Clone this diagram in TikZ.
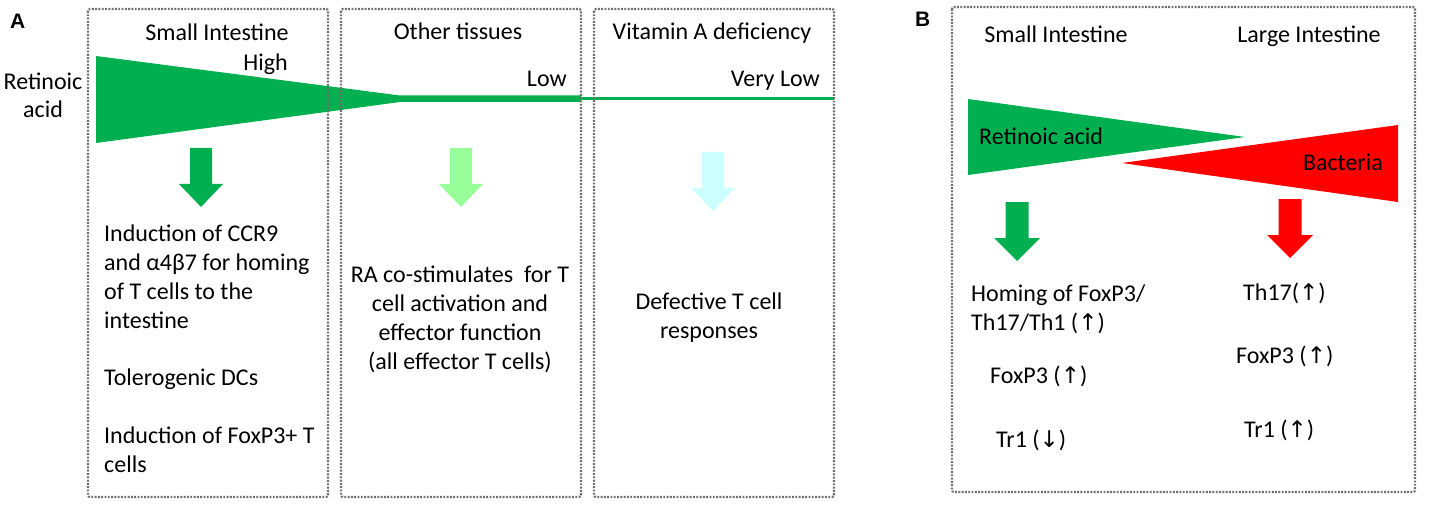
\documentclass[tikz,border=0pt]{standalone}
\usepackage{fontspec}
\setmainfont{Carlito}
\newfontfamily\arrowfont{DejaVu Sans}
\newfontfamily\panelfont{Liberation Sans}
\usetikzlibrary{positioning}
\definecolor{ragreen}{RGB}{0,176,80}
\definecolor{palegreen}{RGB}{153,255,153}
\definecolor{palecyan}{RGB}{204,255,255}
\definecolor{dotgray}{RGB}{110,110,110}
\tikzstyle{panel}=[draw=dotgray,line width=2.2pt,dash pattern=on 1.9pt off 1.4pt,rounded corners=2pt]
\tikzstyle{txt}=[inner sep=0pt,font=\fontsize{24}{28.8}\selectfont]
\tikzstyle{tag}=[inner sep=0pt,font=\fontsize{21}{24}\panelfont\bfseries]
\newcommand{\up}{{\arrowfont\fontsize{23}{24}\selectfont ↑}}
\newcommand{\down}{{\arrowfont\fontsize{23}{24}\selectfont ↓}}

\begin{document}
\begin{tikzpicture}[x=1pt,y=-1pt]
        \useasboundingbox (0,0) rectangle (1439,505);
        % panel A: retinoic acid gradient
        \fill[ragreen] (96,56) -- (400,95.5) -- (581,95.5) -- (581,102) -- (400,102) -- (96,143) -- cycle;
        \fill[ragreen] (581,97) rectangle (834,100.5);
        % panel B: opposing gradients
        \fill[ragreen] (968,99) -- (1245,137) -- (968,175) -- cycle;
        \fill[red] (1122,163) -- (1398,125) -- (1398,202) -- cycle;
        % block arrows
        \foreach \x/\t/\w/\col in {201/148/11/ragreen,461/148/11/palegreen,713/152/11/palecyan,1017/202/11.5/ragreen,1290/199/11.5/red}{
          \fill[\col] ({\x-\w},\t) -- ({\x+\w},\t) -- ({\x+\w},{\t+36}) -- ({\x+2*\w},{\t+36})
            -- (\x,{\t+59}) -- ({\x-2*\w},{\t+36}) -- ({\x-\w},{\t+36}) -- cycle;
        }
        % dotted frames
        \draw[panel] (88,9) rectangle (328,497);
        \draw[panel] (341,9) rectangle (581,497);
        \draw[panel] (594,9) rectangle (834,497);
        \draw[panel] (952,7) rectangle (1415,492);
        % labels of panel A (multi-line nodes sit on their last line)
        \node[tag,anchor=base west] (tagA) at (10,29) {A};
        \node[txt,anchor=base,align=center] (ra) at (43,118) {Retinoic\\acid};
        \node[txt,anchor=base] (si) at (217,41) {Small Intestine};
        \node[txt,anchor=base] (ot) at (458,40) {Other tissues};
        \node[txt,anchor=base] (vad) at (712,40) {Vitamin A deficiency};
        \node[txt,anchor=base east] (high) at (288,71) {High};
        \node[txt,anchor=base east] (low) at (567,87) {Low};
        \node[txt,anchor=base east] (vlow) at (820,87) {Very Low};
        \node[txt,anchor=base west,align=left] (sitxt) at (104,472) {Induction of CCR9\\and α4β7 for homing\\of T cells to the\\intestine\\[28.8pt]Tolerogenic DCs\\[28.8pt]Induction of FoxP3+ T\\cells};
        \node[txt,anchor=base,align=center] (ottxt) at (460,369) {RA co-stimulates\ \ for T\\cell activation and\\effector function\\(all effector T cells)};
        \node[txt,anchor=base,align=center] (vadtxt) at (709,338) {Defective T cell\\responses};
        % labels of panel B
        \node[tag,anchor=base west] (tagB) at (915,27) {B};
        \node[txt,anchor=base] (sib) at (1056,43) {Small Intestine};
        \node[txt,anchor=base] (li) at (1309,43) {Large Intestine};
        \node[txt,anchor=base west] (rab) at (979,145) {Retinoic acid};
        \node[txt,anchor=base east] (bac) at (1383,171) {Bacteria};
        \node[txt,anchor=base west,align=left] (hom) at (971,330) {Homing of FoxP3/\\Th17/Th1 (\up)};
        \node[txt,anchor=base west] (fox1) at (990,383) {FoxP3 (\up)};
        \node[txt,anchor=base west] (tr1) at (996,447) {Tr1 (\down)};
        \node[txt,anchor=base west] (th17) at (1243,300) {Th17(\up)};
        \node[txt,anchor=base west] (fox2) at (1236,363) {FoxP3 (\up)};
        \node[txt,anchor=base west] (tr2) at (1244,437) {Tr1 (\up)};
      \end{tikzpicture}
\end{document}
